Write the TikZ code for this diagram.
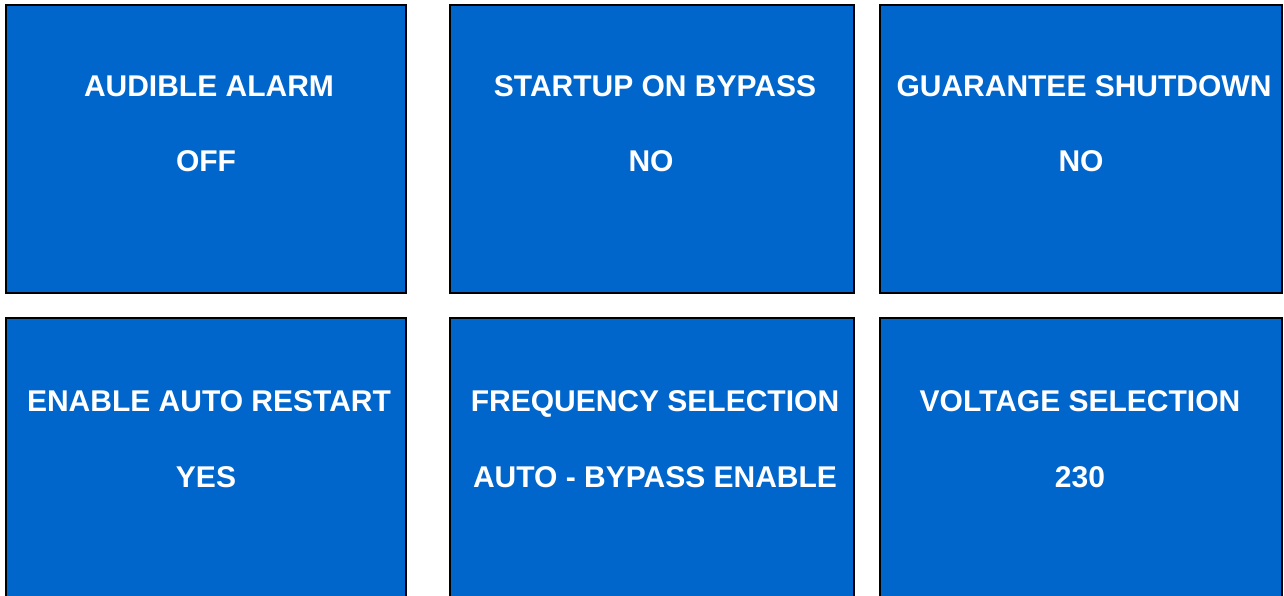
\documentclass[tikz,border=0pt]{standalone}
\usepackage{fontspec}
\setmainfont{Liberation Sans}
\definecolor{panelblue}{HTML}{0066CC}
\tikzset{
  panel/.style={draw=black, line width=2pt, fill=panelblue},
  label/.style={text=white, font=\fontsize{30}{34}\selectfont\bfseries, inner sep=0pt, anchor=base}
}
\begin{document}
\begin{tikzpicture}[x=1pt,y=-1pt]
\useasboundingbox (0,0) rectangle (1284,596);
\clip (0,0) rectangle (1284,596);
% row 1
\path[panel] (6,5) rectangle (406,293);
\path[panel] (450,5) rectangle (854,293);
\path[panel] (880,5) rectangle (1282,293);
% row 2
\path[panel] (6,318) rectangle (406,610);
\path[panel] (450,318) rectangle (854,610);
\path[panel] (880,318) rectangle (1282,610);
\node[label] (t1) at (209,97) {AUDIBLE ALARM};
\node[label] (v1) at (206,172) {OFF};
\node[label] (t2) at (655,97) {STARTUP ON BYPASS};
\node[label] (v2) at (651,172) {NO};
\node[label] (t3) at (1084,97) {GUARANTEE SHUTDOWN};
\node[label] (v3) at (1081,172) {NO};
\node[label] (t4) at (209,411) {ENABLE AUTO RESTART};
\node[label] (v4) at (206,487) {YES};
\node[label] (t5) at (655,411) {FREQUENCY SELECTION};
\node[label] (v5) at (655,487) {AUTO - BYPASS ENABLE};
\node[label] (t6) at (1080,411) {VOLTAGE SELECTION};
\node[label] (v6) at (1080,487) {230};
\end{tikzpicture}
\end{document}
